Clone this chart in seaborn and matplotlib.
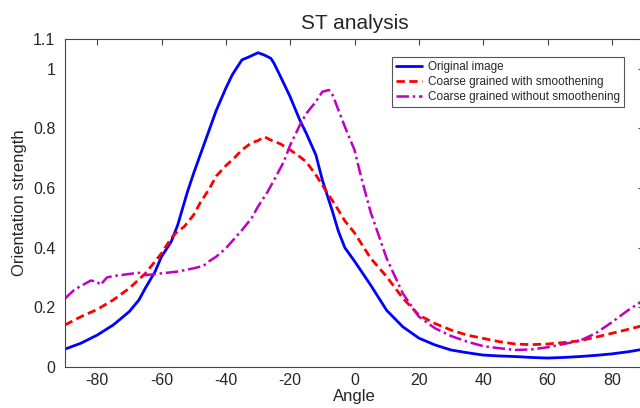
import seaborn as sns
import pandas as pd
import matplotlib
matplotlib.use("Agg")
from matplotlib import pyplot as plt

# angle samples and orientation strength
orig_angle = [-90, -85, -80, -75, -70, -67, -65, -62, -60, -57, -55, -52, -50, -47, -45, -43,
              -40, -38, -35, -33, -30, -28, -26, -25, -23, -20, -17, -15, -12, -10, -7,
              -5, -3, 0, 5, 10, 15, 20, 25, 30, 35, 40, 45, 50, 55, 60, 65, 70, 75, 80, 85, 90]
orig_value = [0.060, 0.080, 0.107, 0.141, 0.186, 0.225, 0.265, 0.32, 0.37, 0.42, 0.475, 0.585, 0.65,
              0.74, 0.80, 0.86, 0.935, 0.98, 1.03, 1.039, 1.054, 1.046, 1.035, 1.018, 0.974,
              0.906, 0.828, 0.784, 0.711, 0.627, 0.527, 0.455, 0.40, 0.355, 0.275, 0.19, 0.135,
              0.097, 0.074, 0.057, 0.048, 0.040, 0.037, 0.035, 0.032, 0.030, 0.032, 0.035,
              0.039, 0.044, 0.051, 0.060]

smooth_angle = [-90, -85, -80, -75, -70, -65, -60, -57, -55, -53, -50, -48, -45, -43, -40, -37,
                -35, -32, -30, -28, -26, -23, -20, -17, -15, -12, -10, -7, -5, -3, 0, 5, 10,
                15, 20, 25, 30, 35, 40, 45, 50, 55, 60, 65, 70, 75, 80, 85, 90]
smooth_value = [0.141, 0.169, 0.193, 0.225, 0.264, 0.314, 0.381, 0.432, 0.455, 0.47, 0.51, 0.55,
                0.60, 0.64, 0.675, 0.705, 0.728, 0.752, 0.759, 0.772, 0.761, 0.748, 0.728, 0.705,
                0.688, 0.644, 0.61, 0.56, 0.526, 0.49, 0.45, 0.365, 0.303, 0.231, 0.174, 0.146,
                0.124, 0.107, 0.096, 0.085, 0.077, 0.075, 0.077, 0.082, 0.088, 0.10, 0.113,
                0.126, 0.14]

raw_angle = [-90, -87, -85, -82, -80, -79, -77, -75, -70, -67, -65, -60, -55, -50, -47, -45, -43,
             -40, -35, -32, -30, -27, -25, -22, -20, -17, -15, -12, -10, -8, -7, -5, -3, 0, 2,
             5, 10, 15, 20, 25, 30, 35, 40, 45, 50, 55, 60, 65, 70, 75, 80, 85, 90]
raw_value = [0.23, 0.26, 0.272, 0.29, 0.286, 0.275, 0.30, 0.305, 0.312, 0.316, 0.308, 0.314, 0.32,
             0.331, 0.339, 0.356, 0.37, 0.398, 0.459, 0.499, 0.538, 0.588, 0.627, 0.688, 0.744,
             0.811, 0.85, 0.89, 0.923, 0.929, 0.918, 0.862, 0.806, 0.728, 0.64, 0.52, 0.364,
             0.247, 0.169, 0.13, 0.104, 0.085, 0.07, 0.063, 0.057, 0.059, 0.066, 0.077, 0.088,
             0.113, 0.15, 0.19, 0.225]

series_names = ["Original image", "Coarse grained with smoothening",
                "Coarse grained without smoothening"]
x_ticks = [-80, -60, -40, -20, 0, 20, 40, 60, 80]
y_ticks = [0, 0.2, 0.4, 0.6, 0.8, 1, 1.1]
y_tick_labels = ["0", "0.2", "0.4", "0.6", "0.8", "1", "1.1"]

sns.set_style("white")
plt.rcParams["font.family"] = ["Liberation Sans", "DejaVu Sans"]
plt.rcParams["axes.unicode_minus"] = False

fig = plt.figure(figsize=(6.4, 4.08), dpi=100)
ax = fig.add_axes([65 / 640, 41 / 408, 579 / 640, 328 / 408])

sns.lineplot(x=orig_angle, y=orig_value, ax=ax, color="#0000ff", lw=2.0,
             label=series_names[0])
sns.lineplot(x=smooth_angle, y=smooth_value, ax=ax, color="#ff0000", lw=2.0,
             linestyle=(0, (3, 1.6)), label=series_names[1])
sns.lineplot(x=raw_angle, y=raw_value, ax=ax, color="#c000c0", lw=1.8,
             linestyle=(0, (5, 1.5, 1, 1.5)), label=series_names[2])

ax.set_xlim(-90, 90)
ax.set_ylim(0, 1.1)
ax.set_xticks(x_ticks)
ax.set_yticks(y_ticks)
ax.set_yticklabels(y_tick_labels)
ax.tick_params(direction="in", top=True, right=True, length=4, width=0.8,
               color="#444444", labelsize=11.5)
ax.tick_params(axis="x", pad=4)
ax.tick_params(axis="y", pad=7)
for sp in ax.spines.values():
    sp.set_color("#444444")
    sp.set_linewidth(0.8)

ax.set_title("ST analysis", fontsize=15, pad=7)
ax.set_xlabel("Angle", fontsize=12, labelpad=1)
ax.set_ylabel("Orientation strength", fontsize=12, labelpad=4)

leg = ax.legend(loc="upper right", bbox_to_anchor=(0.965, 0.945), fontsize=8.5,
                frameon=True, fancybox=False, framealpha=1, handlelength=2.2,
                borderpad=0.35, labelspacing=0.25, handletextpad=0.5, borderaxespad=0)
leg.get_frame().set_edgecolor("#555555")
leg.get_frame().set_linewidth(0.8)

plt.savefig("out.png", dpi=100)
